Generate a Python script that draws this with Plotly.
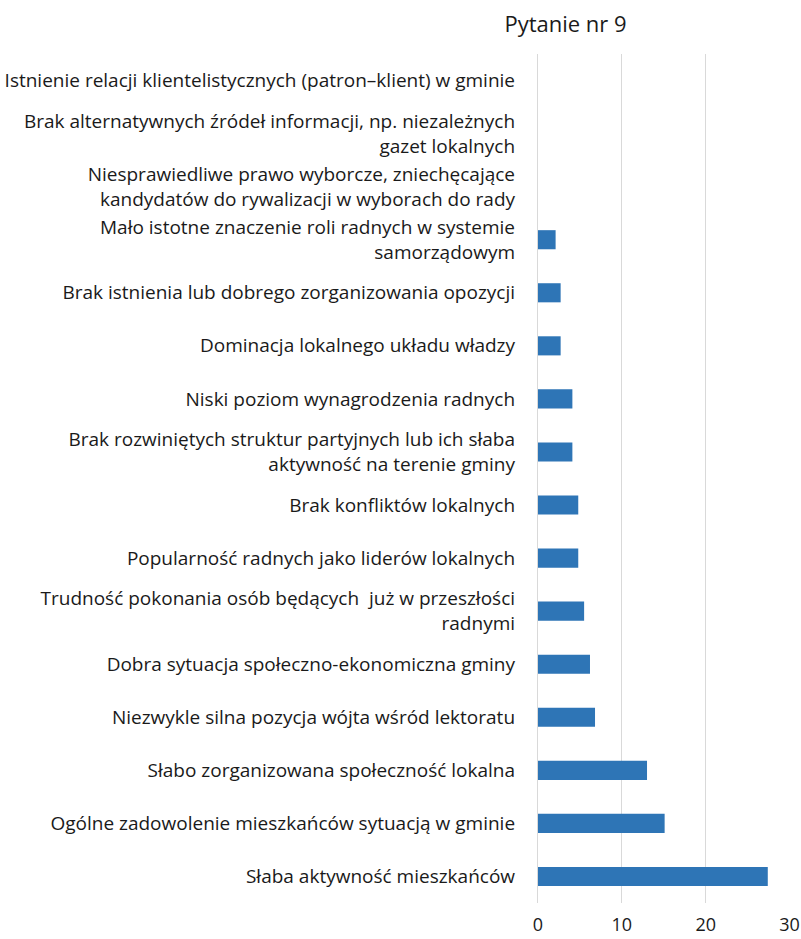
import plotly.graph_objects as go

# Categories listed bottom-to-top (as drawn on the y axis)
categories = [
    "Słaba aktywność mieszkańców",
    "Ogólne zadowolenie mieszkańców sytuacją w gminie",
    "Słabo zorganizowana społeczność lokalna",
    "Niezwykle silna pozycja wójta wśród lektoratu",
    "Dobra sytuacja społeczno-ekonomiczna gminy",
    "Trudność pokonania osób będących  już w przeszłości<br>radnymi",
    "Popularność radnych jako liderów lokalnych",
    "Brak konfliktów lokalnych",
    "Brak rozwiniętych struktur partyjnych lub ich słaba<br>aktywność na terenie gminy",
    "Niski poziom wynagrodzenia radnych",
    "Dominacja lokalnego układu władzy",
    "Brak istnienia lub dobrego zorganizowania opozycji",
    "Mało istotne znaczenie roli radnych w systemie<br>samorządowym",
    "Niesprawiedliwe prawo wyborcze, zniechęcające<br>kandydatów do rywalizacji w wyborach do rady",
    "Brak alternatywnych źródeł informacji, np. niezależnych<br>gazet lokalnych",
    "Istnienie relacji klientelistycznych (patron–klient) w gminie",
]
values = [27.4, 15.1, 13.0, 6.8, 6.2, 5.5, 4.8, 4.8, 4.1, 4.1, 2.7, 2.7, 2.1, 0, 0, 0]
x_ticks = [0, 10, 20, 30]

FONT = "Open Sans"
TEXT = "#1a1a1a"

fig = go.Figure(
    go.Bar(
        x=values,
        y=categories,
        orientation="h",
        marker=dict(color="#2e75b6", line=dict(width=0)),
        width=0.36,
    )
)

fig.update_layout(
    width=801,
    height=939,
    margin=dict(l=538, r=11, t=54, b=36),
    paper_bgcolor="white",
    plot_bgcolor="white",
    showlegend=False,
    font=dict(family=FONT, size=18, color=TEXT),
    title=dict(
        text="Pytanie nr 9",
        x=0.706,
        xanchor="center",
        y=0.974,
        yanchor="middle",
        font=dict(family=FONT, size=22, color=TEXT),
    ),
)

fig.update_xaxes(
    range=[0, 30.05],
    tickvals=x_ticks,
    automargin=False,
    showgrid=True,
    gridcolor="#d9d9d9",
    gridwidth=1.3,
    zeroline=False,
    showline=False,
    ticks="",
    ticklabelstandoff=9,
    tickfont=dict(family=FONT, size=18, color=TEXT),
    fixedrange=True,
)
fig.update_yaxes(
    type="category",
    categoryorder="array",
    categoryarray=categories,
    automargin=False,
    showgrid=False,
    zeroline=False,
    showline=True,
    linecolor="#d9d9d9",
    linewidth=1.3,
    ticks="",
    ticklabelstandoff=18,
    tickfont=dict(family=FONT, size=19, color=TEXT),
    fixedrange=True,
)

fig.write_html("out.html")
